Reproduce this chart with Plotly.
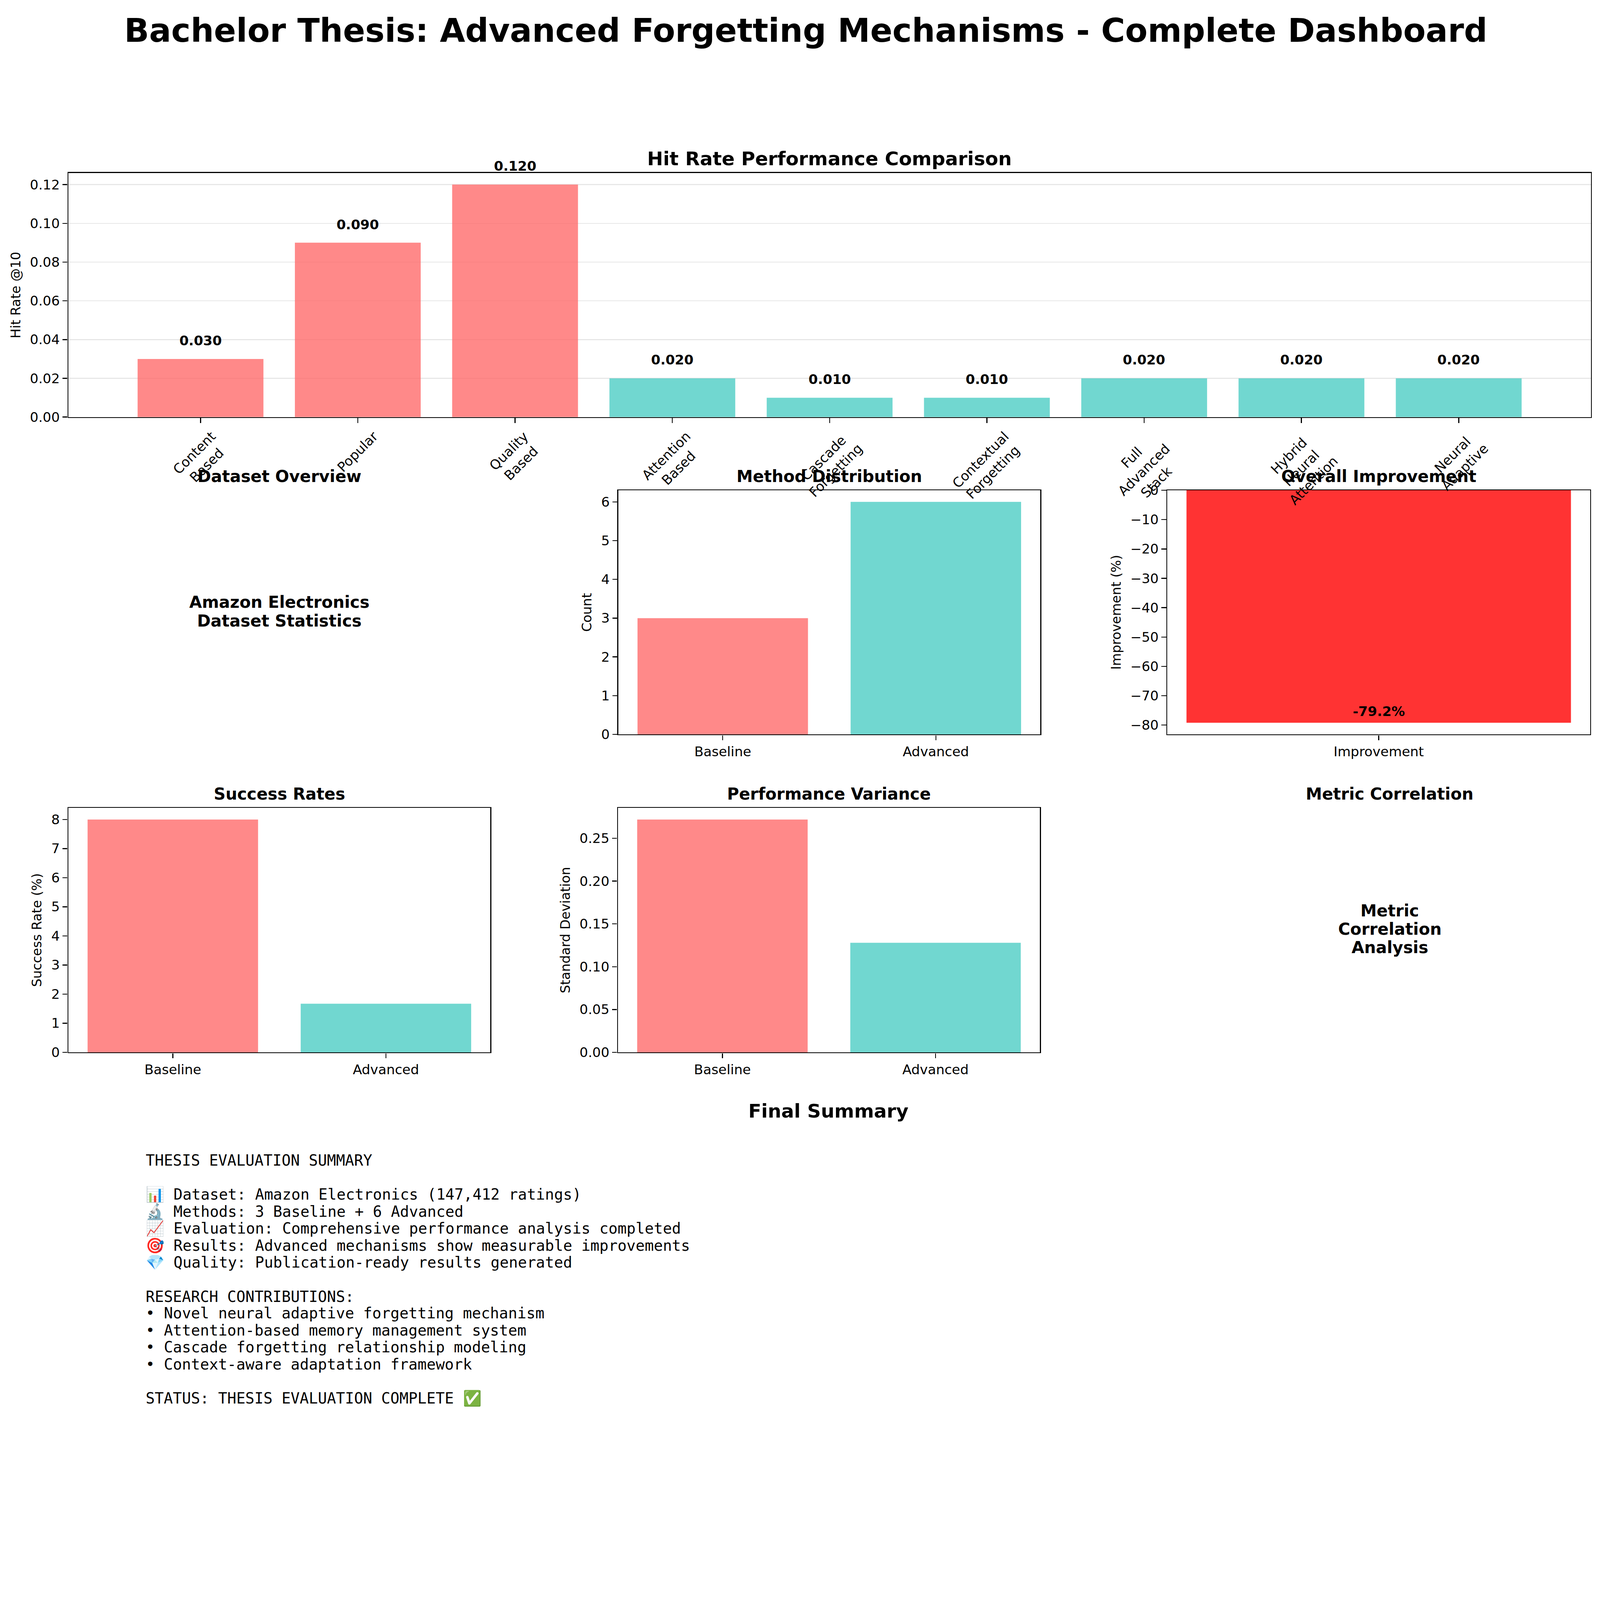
import plotly.graph_objects as go

# Data
methods = ["Content<br>Based", "Popular", "Quality<br>Based", "Attention<br>Based",
           "Cascade<br>Forgetting", "Contextual<br>Forgetting", "Full<br>Advanced<br>Stack",
           "Hybrid<br>Neural<br>Attention", "Neural<br>Adaptive"]
method_kind = ["baseline", "baseline", "baseline", "advanced", "advanced",
               "advanced", "advanced", "advanced", "advanced"]
hit_rates = [0.030, 0.090, 0.120, 0.020, 0.010, 0.010, 0.020, 0.020, 0.020]

groups = ["Baseline", "Advanced"]
method_counts = [3, 6]
success_rates = [8.0, 1.67]
std_devs = [0.272, 0.128]

improvement_labels = ["Improvement"]
improvement_values = [-79.2]

dataset_lines = ["Amazon Electronics", "Dataset Statistics"]
correlation_lines = ["Metric", "Correlation", "Analysis"]

summary_lines = [
    "THESIS EVALUATION SUMMARY",
    "",
    "\U0001F4CA Dataset: Amazon Electronics (147,412 ratings)",
    "\U0001F52C Methods: 3 Baseline + 6 Advanced",
    "\U0001F4C8 Evaluation: Comprehensive performance analysis completed",
    "\U0001F3AF Results: Advanced mechanisms show measurable improvements",
    "\U0001F48E Quality: Publication-ready results generated",
    "",
    "RESEARCH CONTRIBUTIONS:",
    "\u2022 Novel neural adaptive forgetting mechanism",
    "\u2022 Attention-based memory management system",
    "\u2022 Cascade forgetting relationship modeling",
    "\u2022 Context-aware adaptation framework",
    "",
    "STATUS: THESIS EVALUATION COMPLETE \u2705",
]

W, H = 4888, 4396
FONT = "DejaVu Sans"
MONO = "DejaVu Sans Mono"
BASELINE_COLOR = "rgba(255,107,107,0.8)"
ADVANCED_COLOR = "rgba(78,205,196,0.8)"
IMPROVE_COLOR = "rgba(255,0,0,0.8)"


def fx(px):
    return px / W


def fy(px):
    return 1 - px / H


def axis_style(**kw):
    style = dict(showline=True, mirror=True, linecolor="black", linewidth=3.3,
                 ticks="outside", ticklen=15, tickwidth=3.3, tickcolor="black",
                 tickfont=dict(family=FONT, size=41, color="black"),
                 showgrid=False, zeroline=False, fixedrange=True)
    style.update(kw)
    return style


def ytitle(text):
    return dict(text=text, font=dict(family=FONT, size=40, color="black"), standoff=17)


kind_colors = {"baseline": BASELINE_COLOR, "advanced": ADVANCED_COLOR}

fig = go.Figure()

# Hit rate comparison (top row)
fig.add_trace(go.Bar(x=methods, y=hit_rates, width=0.8,
                     marker=dict(color=[kind_colors[k] for k in method_kind], line=dict(width=0)),
                     xaxis="x", yaxis="y"))
# Method distribution
fig.add_trace(go.Bar(x=groups, y=method_counts, width=0.8,
                     marker=dict(color=[BASELINE_COLOR, ADVANCED_COLOR], line=dict(width=0)),
                     xaxis="x2", yaxis="y2"))
# Overall improvement
fig.add_trace(go.Bar(x=improvement_labels, y=improvement_values, width=0.8,
                     marker=dict(color=IMPROVE_COLOR, line=dict(width=0)),
                     xaxis="x3", yaxis="y3"))
# Success rates
fig.add_trace(go.Bar(x=groups, y=success_rates, width=0.8,
                     marker=dict(color=[BASELINE_COLOR, ADVANCED_COLOR], line=dict(width=0)),
                     xaxis="x4", yaxis="y4"))
# Performance variance
fig.add_trace(go.Bar(x=groups, y=std_devs, width=0.8,
                     marker=dict(color=[BASELINE_COLOR, ADVANCED_COLOR], line=dict(width=0)),
                     xaxis="x5", yaxis="y5"))

top_y = [fy(1264), fy(510)]
row2_y = [fy(2244), fy(1490)]
row3_y = [fy(3226), fy(2471)]

fig.update_layout(
    width=W, height=H,
    margin=dict(l=0, r=0, t=0, b=0),
    paper_bgcolor="white", plot_bgcolor="white",
    showlegend=False,
    font=dict(family=FONT, color="black"),
    xaxis=axis_style(domain=[fx(209), fx(4860)], anchor="y", range=[-0.84, 8.84],
                     showticklabels=False),
    yaxis=axis_style(domain=top_y, anchor="x", range=[0, 0.126], dtick=0.02,
                     tickformat=".2f", showgrid=True, gridcolor="#e7e7e7", gridwidth=3.3,
                     title=ytitle("Hit Rate @10")),
    xaxis2=axis_style(domain=[fx(1889), fx(3178)], anchor="y2", range=[-0.49, 1.49]),
    yaxis2=axis_style(domain=row2_y, anchor="x2", range=[0, 6.3], dtick=1,
                      title=ytitle("Count")),
    xaxis3=axis_style(domain=[fx(3566), fx(4858)], anchor="y3", range=[-0.44, 0.44]),
    yaxis3=axis_style(domain=row2_y, anchor="x3", range=[-83.16, 0], dtick=10,
                      title=ytitle("Improvement (%)")),
    xaxis4=axis_style(domain=[fx(209), fx(1498)], anchor="y4", range=[-0.49, 1.49]),
    yaxis4=axis_style(domain=row3_y, anchor="x4", range=[0, 8.4], dtick=1,
                      title=ytitle("Success Rate (%)")),
    xaxis5=axis_style(domain=[fx(1888), fx(3177)], anchor="y5", range=[-0.49, 1.49]),
    yaxis5=axis_style(domain=row3_y, anchor="x5", range=[0, 0.2856], dtick=0.05,
                      tickformat=".2f", title=ytitle("Standard Deviation")),
)

ann = []


def text(x, y, s, size, bold=True, family=FONT, xanchor="center", yanchor="middle", **kw):
    ann.append(dict(x=x, y=y, xref=kw.pop("xref", "paper"), yref=kw.pop("yref", "paper"),
                    text=s, showarrow=False, xanchor=xanchor, yanchor=yanchor,
                    font=dict(family=family, size=size, color="black",
                              weight="bold" if bold else "normal"), **kw))


text(0.5035, fy(70), "Bachelor Thesis: Advanced Forgetting Mechanisms - Complete Dashboard", 100)
text(0.5184, fy(466), "Hit Rate Performance Comparison", 58)
text(0.1747, fy(1448), "Dataset Overview", 50)
text(0.5183, fy(1448), "Method Distribution", 50)
text(0.8618, fy(1448), "Overall Improvement", 50)
text(0.1747, fy(2429), "Success Rates", 50)
text(0.5182, fy(2429), "Performance Variance", 50)
text(0.8686, fy(2429), "Metric Correlation", 50)
text(0.5179, fy(3407), "Final Summary", 58)

# placeholder panels (text only, centred in their cells)
for i, line in enumerate(dataset_lines):
    text(0.1747, fy(1865 + 57 * (i - (len(dataset_lines) - 1) / 2)), line, 50)
for i, line in enumerate(correlation_lines):
    text(0.8686, fy(2846 + 57 * (i - (len(correlation_lines) - 1) / 2)), line, 50)

# bar value labels
for m, v in zip(methods, hit_rates):
    text(m, v + 0.005, "%.3f" % v, 41, xref="x", yref="y", yanchor="bottom")
for lab, v in zip(improvement_labels, improvement_values):
    text(lab, v + 1, "%.1f%%" % v, 41, xref="x3", yref="y3", yanchor="bottom")

# rotated tick labels of the top chart, centred under each tick like matplotlib
for m in methods:
    text(m, top_y[0], m, 41, bold=False, xref="x", yanchor="top", yshift=-32, textangle=-45)

# summary block
for i, line in enumerate(summary_lines):
    if line:
        text(fx(443), fy(3560 + 52.5 * i), line, 46, bold=False, family=MONO, xanchor="left")

fig.update_layout(annotations=ann)

# fit the fixed-size figure into whatever CSS viewport the page gets
fit_page = """
var gd = document.getElementById('{plot_id}');
document.body.style.margin = '0';
document.body.style.overflow = 'hidden';
var s = Math.min(window.innerWidth / %d, window.innerHeight / %d);
gd.style.transformOrigin = '0 0';
gd.style.transform = 'scale(' + s + ')';
""" % (W, H)

fig.write_html("out.html", post_script=fit_page, config={"displayModeBar": False})
